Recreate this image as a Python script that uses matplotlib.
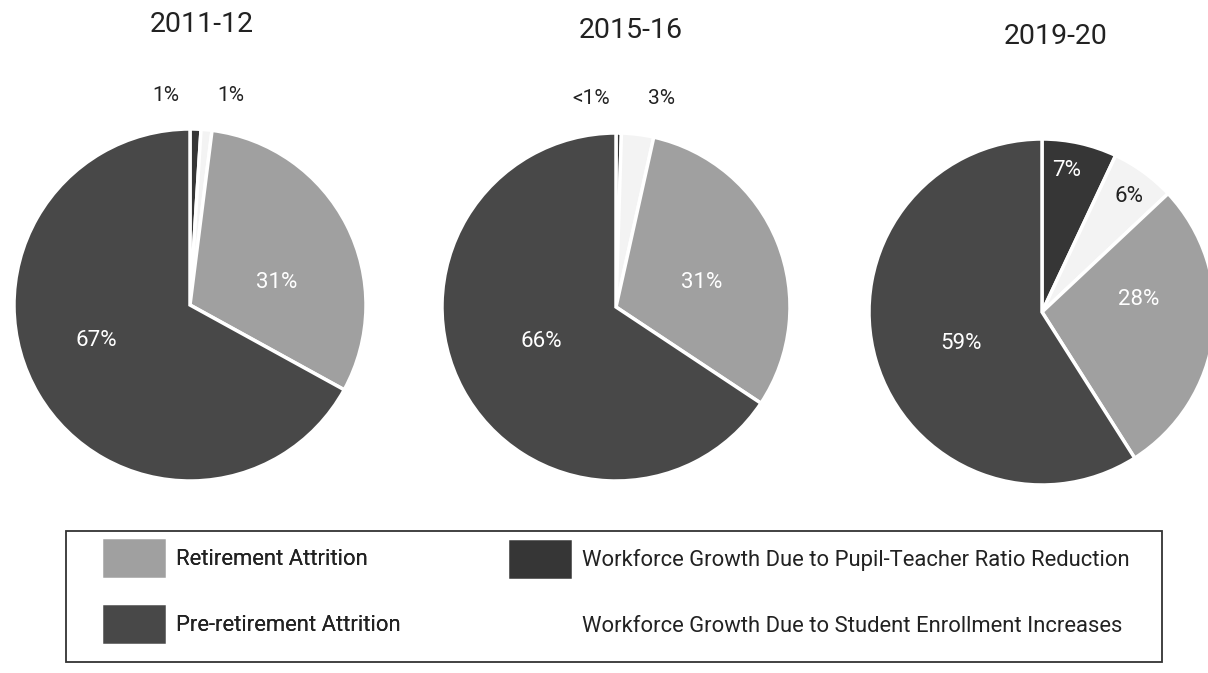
import numpy as np
import matplotlib.pyplot as plt
from matplotlib.patches import Rectangle, Patch

plt.rcParams['font.family'] = ['Roboto', 'DejaVu Sans']

# data
years = ['2011-12', '2015-16', '2019-20']
categories = ['Workforce Growth Due to Pupil-Teacher Ratio Reduction',
              'Workforce Growth Due to Student Enrollment Increases',
              'Retirement Attrition',
              'Pre-retirement Attrition']
ptr_reduction = [1, 0.5, 7]
enrollment = [1, 3, 6]
retirement = [31, 31, 28]
pre_retirement = [67, 66, 59]
pct_labels = [['1%', '1%', '31%', '67%'],
              ['<1%', '3%', '31%', '66%'],
              ['7%', '6%', '28%', '59%']]

colors = ['#363636', '#f3f3f3', '#a0a0a0', '#484848']
text_cols = ['white', '#222222', 'white', 'white']

W, H = 1208, 673
fig = plt.figure(figsize=(W / 100, H / 100), dpi=100)

# pie centres / radii in pixels (from top-left)
centres = [(190, 305, 176), (616, 307, 174), (1042, 312, 173)]
title_pos = [(202, 25), (631, 30), (1056, 37)]
# label positions in pie-radius units (x, y from centre)
label_xy = [[(-0.136, 1.19), (0.233, 1.19), (0.49, 0.13), (-0.53, -0.20)],
            [(-0.144, 1.20), (0.264, 1.20), (0.49, 0.14), (-0.43, -0.20)],
            [(0.14, 0.82), (0.50, 0.67), (0.56, 0.07), (-0.47, -0.18)]]

wedges_keep = None
for i, yr in enumerate(years):
    cx, cy, r = centres[i]
    ax = fig.add_axes([(cx - r) / W, (H - cy - r) / H, 2 * r / W, 2 * r / H])
    vals = [ptr_reduction[i], enrollment[i], retirement[i], pre_retirement[i]]
    wedges, _ = ax.pie(vals, colors=colors, startangle=90, counterclock=False,
                       wedgeprops=dict(edgecolor='white', linewidth=2.5))
    ax.set_xlim(-1, 1)
    ax.set_ylim(-1, 1)
    ax.set_axis_off()
    if wedges_keep is None:
        wedges_keep = wedges

    for j, w in enumerate(wedges):
        x, y = label_xy[i][j]
        outside = y > 1
        ax.text(x, y, pct_labels[i][j], ha='center', va='center',
                fontsize=15 if outside else 16,
                color='#222222' if outside else text_cols[j])

    tx, ty = title_pos[i]
    fig.text(tx / W, 1 - ty / H, yr, ha='center', va='center', fontsize=20.5,
             color='#222222')

# legend box
fig.patches.append(Rectangle((66 / W, 1 - 662 / H), 1096 / W, 131 / H,
                             transform=fig.transFigure, fill=False,
                             edgecolor='#333333', linewidth=1.3))

leg_kw = dict(frameon=False, loc='upper left', fontsize=15.8, handlelength=3.0,
              handleheight=2.58, handletextpad=0.4, labelspacing=1.1,
              borderpad=0, borderaxespad=0, labelcolor='#222222')
leg1 = fig.legend([wedges_keep[2], wedges_keep[3]], [categories[2], categories[3]],
                  bbox_to_anchor=(101 / W, 1 - 537 / H), **leg_kw)
fig.add_artist(leg1)
# white swatch for enrollment, invisible on the page like the original
fig.legend([wedges_keep[0], Patch(facecolor='white', edgecolor='white')],
           [categories[0], categories[1]],
           bbox_to_anchor=(507 / W, 1 - 538 / H), **leg_kw)

fig.savefig('out.png', dpi=100, facecolor='white')
